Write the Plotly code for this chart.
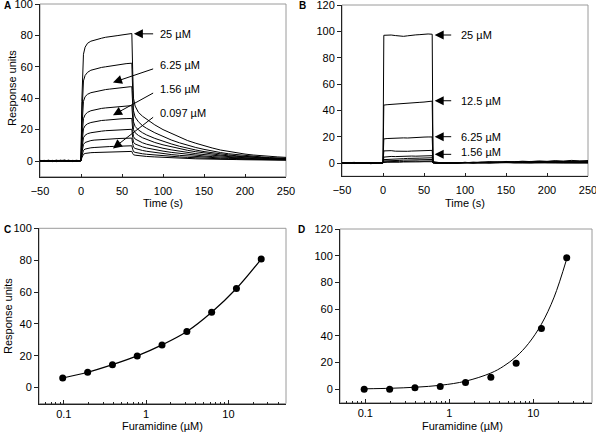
import math
import plotly.graph_objects as go

# ---------------- DATA ----------------
# Panel A: sensorgrams (time in s, response units)
tA = [-50, -45, -40, -35, -30, -25, -20, -15, -10, -5, -1, 0, 1, 2, 3, 5, 8, 12, 16, 20,
      25, 30, 35, 40, 45, 50, 55, 60, 62, 63, 64, 66, 70, 75, 80, 90, 100, 110, 120, 130,
      140, 150, 160, 170, 180, 190, 200, 210, 220, 230, 240, 250]

a_25 = [0.3, -0.2, 0.5, 0.1, -0.4, 0.2, 0.6, -0.1, 0.3, -0.3, 0.2, 0.5, 38, 60, 68, 72.5, 75, 76.3, 77, 77.6,
        78.2, 78.8, 79.3, 79.6, 79.9, 80.3, 80.6, 81, 81.2, 58, 40, 35, 31, 28.5, 26.5, 23, 20, 17.5, 15.2, 13,
        11.3, 9.6, 8.3, 7, 6, 5.2, 4.4, 3.8, 3.3, 2.9, 2.6, 2.3]
a_12_5 = [-0.2, 0.4, -0.3, 0.3, 0.5, -0.2, 0.1, 0.4, -0.4, 0.2, 0.0, 0.2, 28, 45, 51, 54.5, 56.5, 57.8, 58.5, 59,
          59.6, 60, 60.5, 61, 61.3, 61.6, 62, 62.2, 62.3, 45, 32, 28, 25, 22.5, 20.8, 18, 15.5, 13.4, 11.6, 10,
          8.6, 7.4, 6.3, 5.4, 4.6, 4, 3.4, 3, 2.6, 2.2, 2, 1.8]
a_6_25 = [0.1, -0.3, 0.2, -0.1, 0.4, 0.3, -0.3, 0.2, 0.1, 0.5, -0.2, 0.3, 20, 33, 38, 41, 42.5, 43.5, 44, 44.6,
          45, 45.5, 45.8, 46.2, 46.5, 46.8, 47.1, 47.3, 47.3, 34, 25, 22, 19.8, 18, 16.6, 14.4, 12.5, 10.9, 9.4, 8.1,
          7, 6, 5.2, 4.5, 3.9, 3.3, 2.9, 2.5, 2.1, 1.9, 1.6, 1.5]
a_3_125 = [0.4, 0.0, -0.3, 0.3, -0.1, 0.5, 0.2, -0.2, 0.4, 0.0, 0.3, 0.4, 14, 23, 27, 29.5, 31, 32, 32.6, 33,
           33.5, 33.8, 34.1, 34.4, 34.6, 34.8, 35, 35.2, 35.2, 26, 20, 18, 16.3, 14.8, 13.7, 11.8, 10.3, 9, 7.8, 6.8,
           5.9, 5.1, 4.4, 3.8, 3.3, 2.9, 2.5, 2.2, 1.9, 1.7, 1.5, 1.4]
a_1_56 = [-0.1, 0.3, 0.1, -0.4, 0.2, 0.0, 0.4, -0.2, 0.1, 0.3, -0.1, 0.2, 10, 17, 20.5, 22.5, 23.7, 24.5, 25, 25.4,
          25.8, 26, 26.3, 26.5, 26.7, 26.9, 27, 27.1, 27.1, 20, 15.5, 14, 12.7, 11.6, 10.7, 9.3, 8.1, 7.1, 6.2, 5.4,
          4.7, 4.1, 3.6, 3.1, 2.7, 2.4, 2.1, 1.8, 1.6, 1.4, 1.3, 1.2]
a_0_78 = [0.2, -0.2, 0.4, 0.0, 0.3, -0.3, 0.1, 0.5, -0.1, 0.2, 0.1, 0.3, 7, 12, 14.8, 16.4, 17.4, 18, 18.4, 18.7,
          19, 19.3, 19.5, 19.7, 19.8, 20, 20.1, 20.2, 20.2, 15, 12, 10.8, 9.8, 9, 8.3, 7.2, 6.3, 5.5, 4.8, 4.2,
          3.7, 3.2, 2.8, 2.5, 2.2, 1.9, 1.7, 1.5, 1.3, 1.2, 1.1, 1.0]
a_0_39 = [0.0, 0.4, -0.2, 0.2, 0.1, 0.4, -0.3, 0.0, 0.3, -0.2, 0.2, 0.3, 5, 8.5, 10.5, 11.8, 12.5, 13, 13.3, 13.5,
          13.7, 13.9, 14.1, 14.2, 14.3, 14.4, 14.5, 14.6, 14.6, 11, 8.8, 8, 7.3, 6.7, 6.2, 5.4, 4.7, 4.1, 3.6, 3.2,
          2.8, 2.5, 2.2, 1.9, 1.7, 1.5, 1.3, 1.2, 1.1, 1.0, 0.9, 0.9]
a_0_195 = [0.3, 0.1, 0.0, 0.4, -0.2, 0.2, 0.3, -0.1, 0.0, 0.4, 0.1, 0.3, 3, 5.5, 6.8, 7.6, 8.1, 8.4, 8.6, 8.8,
           8.9, 9.1, 9.2, 9.3, 9.4, 9.5, 9.6, 9.7, 9.7, 7.5, 6, 5.5, 5, 4.6, 4.3, 3.8, 3.3, 2.9, 2.6, 2.3,
           2.0, 1.8, 1.6, 1.4, 1.3, 1.2, 1.1, 1.0, 0.9, 0.8, 0.8, 0.7]
a_0_097 = [-0.2, 0.2, 0.3, -0.1, 0.0, 0.2, 0.0, 0.3, 0.2, -0.1, 0.0, 0.2, 2, 3.5, 4.3, 4.8, 5.1, 5.3, 5.4, 5.5,
           5.6, 5.7, 5.8, 5.8, 5.9, 6.0, 6.0, 6.1, 6.1, 4.8, 4, 3.7, 3.4, 3.1, 2.9, 2.6, 2.3, 2.0, 1.8, 1.6,
           1.4, 1.3, 1.1, 1.0, 0.9, 0.9, 0.8, 0.7, 0.7, 0.6, 0.6, 0.5]
seriesA = [a_25, a_12_5, a_6_25, a_3_125, a_1_56, a_0_78, a_0_39, a_0_195, a_0_097]

# Panel B: sensorgrams
tB = [-50, -45, -40, -35, -30, -25, -20, -15, -10, -5, -1, 0, 1, 5, 10, 15, 20, 25, 30, 35,
      40, 45, 50, 55, 60, 61, 62, 65, 70, 80, 90, 100, 110, 120, 130, 140, 150, 160, 170, 180,
      190, 200, 210, 220, 230, 240, 250]
b_25 = [0.2, -0.4, 0.3, 0.5, -0.2, 0.0, 0.4, -0.5, -0.3, 0.1, 0.3, 0.5, 97, 97.3, 97.2, 96.8, 96.5, 96.2, 96.6, 97.2,
        97.3, 97.5, 97.8, 98, 97.8, 1.5, 1.0, 0.6, 0.2, -0.3, 0.3, 0.5, 0.2, 0.8, 1.0, 0.6, 1.2, 0.9, 1.4, 1.1,
        1.6, 1.3, 1.8, 1.5, 2.0, 1.6, 1.9]
b_12_5 = [-0.3, 0.2, 0.0, -0.4, 0.3, -0.1, 0.2, 0.1, -0.3, 0.0, -0.2, 0.2, 44, 44.3, 44.6, 44.8, 45, 45.3, 45.4, 45.6,
          45.9, 46.1, 46.3, 46.8, 47, 1.0, 0.6, 0.3, 0.0, 0.2, -0.2, 0.4, 0.1, 0.6, 0.3, 0.8, 0.5, 1.0, 0.7, 1.2,
          0.9, 1.1, 1.4, 1.0, 1.5, 1.3, 1.2]
b_6_25 = [0.0, 0.3, -0.2, 0.1, -0.3, 0.4, 0.0, -0.2, 0.2, -0.1, 0.1, 0.2, 18.3, 18.6, 18.8, 18.7, 18.9, 19.1, 19.0, 19.3,
          19.5, 19.4, 19.7, 19.8, 19.8, 0.6, 0.4, 0.2, -0.1, 0.3, 0.1, 0.5, 0.0, 0.4, 0.7, 0.3, 0.8, 0.5, 0.9, 0.6,
          1.1, 0.8, 0.7, 1.2, 0.9, 1.0, 0.8]
b_3_125 = [0.2, -0.1, 0.4, 0.0, 0.2, -0.3, 0.3, 0.1, 0.0, 0.3, -0.1, 0.3, 9.2, 9.5, 9.4, 9.0, 8.8, 8.7, 8.9, 9.1,
           9.3, 9.2, 9.4, 9.5, 9.6, 0.5, 0.3, 0.1, 0.3, 0.0, 0.4, 0.2, 0.6, 0.3, 0.5, 0.9, 0.4, 0.7, 1.0, 0.6,
           0.9, 0.5, 1.0, 0.8, 0.6, 0.9, 0.7]
b_1_56 = [-0.2, 0.1, 0.2, -0.1, 0.4, 0.1, -0.2, 0.3, 0.2, -0.3, 0.0, 0.1, 4.5, 4.8, 5.0, 4.9, 5.1, 5.0, 5.2, 5.3,
          5.2, 5.4, 5.5, 5.6, 5.6, 0.4, 0.2, 0.0, 0.2, 0.4, 0.0, 0.3, 0.5, 0.2, 0.6, 0.4, 0.3, 0.7, 0.5, 0.8,
          0.4, 0.6, 0.9, 0.5, 0.7, 0.4, 0.6]
b_0_78 = [0.1, 0.3, -0.2, 0.2, 0.0, 0.3, 0.1, -0.1, 0.4, 0.1, 0.2, 0.2, 2.6, 2.8, 3.0, 3.1, 3.2, 3.3, 3.5, 3.4,
          3.6, 3.7, 3.8, 3.9, 4.0, 0.3, 0.2, 0.1, -0.1, 0.2, 0.3, 0.1, 0.4, 0.2, 0.5, 0.3, 0.6, 0.2, 0.5, 0.4,
          0.7, 0.3, 0.5, 0.6, 0.4, 0.5, 0.3]
b_0_39 = [0.0, -0.2, 0.3, 0.1, -0.1, 0.2, 0.4, 0.0, -0.2, 0.2, 0.1, 0.1, 1.6, 1.8, 1.9, 2.1, 2.0, 2.2, 2.3, 2.2,
          2.4, 2.5, 2.4, 2.6, 2.7, 0.2, 0.1, 0.3, 0.0, -0.1, 0.2, 0.4, 0.1, 0.3, 0.0, 0.4, 0.2, 0.5, 0.3, 0.2,
          0.6, 0.4, 0.3, 0.5, 0.2, 0.4, 0.3]
b_0_195 = [0.2, 0.0, 0.1, -0.3, 0.2, 0.0, -0.1, 0.3, 0.1, 0.0, 0.2, 0.1, 0.9, 1.1, 1.0, 1.2, 1.3, 1.2, 1.4, 1.3,
           1.5, 1.4, 1.6, 1.5, 1.6, 0.1, 0.2, 0.0, 0.2, 0.1, -0.1, 0.2, 0.3, 0.0, 0.2, 0.4, 0.1, 0.3, 0.2, 0.4,
           0.1, 0.3, 0.2, 0.0, 0.3, 0.1, 0.2]
b_0_097 = [-0.1, 0.2, 0.0, 0.2, -0.2, 0.1, 0.2, -0.1, 0.0, 0.1, 0.0, 0.0, 0.4, 0.6, 0.5, 0.7, 0.6, 0.8, 0.7, 0.9,
           0.8, 0.9, 1.0, 0.9, 1.0, 0.0, 0.1, -0.1, 0.1, 0.0, 0.2, -0.1, 0.1, 0.2, 0.0, 0.1, 0.3, 0.0, 0.2, 0.1,
           0.3, 0.0, 0.2, 0.1, 0.0, 0.2, 0.1]
seriesB = [b_25, b_12_5, b_6_25, b_3_125, b_1_56, b_0_78, b_0_39, b_0_195, b_0_097]

# Panel C: steady-state response vs concentration
concC = [0.097, 0.195, 0.39, 0.78, 1.56, 3.125, 6.25, 12.5, 25]
respC = [6.0, 9.6, 14.4, 19.9, 26.8, 35.2, 47.3, 62.2, 80.7]

# Panel D: points and fitted curve
concD = [0.097, 0.195, 0.39, 0.78, 1.56, 3.125, 6.25, 12.5, 25]
respD = [0.0, 0.0, 1.2, 2.2, 5.2, 9.0, 19.5, 45.6, 98.5]
fitD_x = [0.1, 0.2, 0.4, 0.8, 1.56, 3.125, 4.4, 6.25, 8.8, 12.5, 17.7, 25]
fitD_y = [0.4, 0.8, 1.6, 3.1, 6.1, 12.2, 17.2, 24.4, 34.4, 48.8, 69.0, 97.6]

# Labels
labelsA = ["25 µM", "6.25 µM", "1.56 µM", "0.097 µM"]
labelsB = ["25 µM", "12.5 µM", "6.25 µM", "1.56 µM"]
xticksA = [-50, 0, 50, 100, 150, 200, 250]
logticks = [0.1, 1, 10]
logticktext = ["0.1", "1", "10"]
minorvals = [0.05, 0.06, 0.07, 0.08, 0.09, 0.2, 0.3, 0.4, 0.5, 0.6, 0.7, 0.8, 0.9,
             2, 3, 4, 5, 6, 7, 8, 9, 20, 30, 40, 50]

# ---------------- LAYOUT HELPERS ----------------
W, H = 596, 434
FONT = "Liberation Sans, Arial, sans-serif"


def dom_x(a, b):
    return [a / W, b / W]


def dom_y(top, bottom):
    return [1 - bottom / H, 1 - top / H]


boxes = {
    "A": (40, 286, 4, 176.7),
    "B": (342, 588, 5, 176.2),
    "C": (39, 286, 228.3, 403.5),
    "D": (340, 592, 229, 402.7),
}

fig = go.Figure()
line = dict(color="black", width=1)

for s in seriesA:
    fig.add_trace(go.Scatter(x=tA, y=s, mode="lines", line=line, xaxis="x", yaxis="y",
                             showlegend=False, hoverinfo="skip"))
for s in seriesB:
    fig.add_trace(go.Scatter(x=tB, y=s, mode="lines", line=line, xaxis="x2", yaxis="y2",
                             showlegend=False, hoverinfo="skip"))
fig.add_trace(go.Scatter(x=concC, y=respC, mode="lines+markers", line=dict(color="black", width=1.2, shape="spline"),
                         marker=dict(color="black", size=7), xaxis="x3", yaxis="y3", showlegend=False))
fig.add_trace(go.Scatter(x=fitD_x, y=fitD_y, mode="lines", line=dict(color="black", width=1, shape="spline"),
                         xaxis="x4", yaxis="y4", showlegend=False))
fig.add_trace(go.Scatter(x=concD, y=respD, mode="markers", marker=dict(color="black", size=7),
                         xaxis="x4", yaxis="y4", showlegend=False))

tickfont = dict(family=FONT, size=11, color="black")
common = dict(showgrid=False, zeroline=False, showline=True, linecolor="#222", linewidth=1,
              tickcolor="#222", tickfont=tickfont, automargin=False, ticklabeloverflow="allow")


def lin_x(box, anchor):
    return dict(domain=dom_x(box[0], box[1]), anchor=anchor, range=[-50, 250], tickvals=xticksA,
                ticks="inside", ticklen=3, ticklabelstandoff=4, **common)


def lin_y(box, anchor, rng, dt):
    return dict(domain=dom_y(box[2], box[3]), anchor=anchor, range=rng, tick0=0, dtick=dt,
                ticks="outside", ticklen=4, **common)


def log_x(box, anchor):
    return dict(domain=dom_x(box[0], box[1]), anchor=anchor, type="log",
                range=[math.log10(0.05), math.log10(50)], tickmode="array", tickvals=logticks,
                ticktext=logticktext, ticks="inside", ticklen=4,
                minor=dict(tickmode="array", tickvals=minorvals, ticks="inside", ticklen=2,
                           tickcolor="#222"), **common)


bA, bB, bC, bD = boxes["A"], boxes["B"], boxes["C"], boxes["D"]
fig.update_layout(
    template="none",
    width=W, height=H, margin=dict(l=0, r=0, t=0, b=0, autoexpand=False),
    paper_bgcolor="white", plot_bgcolor="white",
    font=dict(family=FONT, size=11, color="black"),
    xaxis=lin_x(bA, "y"), yaxis=lin_y(bA, "x", [-10, 100], 20),
    xaxis2=lin_x(bB, "y2"), yaxis2=lin_y(bB, "x2", [-10, 120], 20),
    xaxis3=log_x(bC, "y3"), yaxis3=lin_y(bC, "x3", [-10, 100], 20),
    xaxis4=log_x(bD, "y4"), yaxis4=lin_y(bD, "x4", [-10, 120], 20),
)

shapes = []
for k, (x0, x1, y0, y1) in boxes.items():
    shapes.append(dict(type="rect", xref="paper", yref="paper", x0=x0 / W, x1=x1 / W,
                       y0=1 - y1 / H, y1=1 - y0 / H, line=dict(color="#9a9a9a", width=1), layer="below"))
fig.update_layout(shapes=shapes)

ann = []
afont = dict(family=FONT, size=11, color="black")


def arrow(xr, yr, hx, hy, tx, ty):
    return dict(x=hx, y=hy, ax=tx, ay=ty, xref=xr, yref=yr, axref=xr, ayref=yr, text="",
                showarrow=True, arrowhead=2, arrowsize=1.8, arrowwidth=1, arrowcolor="black", standoff=0)


def label(xr, yr, x, y, t):
    return dict(x=x, y=y, xref=xr, yref=yr, text=t, showarrow=False, xanchor="left", yanchor="middle",
                font=afont)


# Panel A arrows/labels
headsA = [(64.5, 81), (39, 50), (39, 29.2), (39, 8)]
tailsA = [(89.8, 81), (89.8, 59), (89.8, 43.8), (89.8, 28.6)]
textA = [(93.4, 81), (93.4, 61), (93.4, 45.7), (93.4, 30.5)]
for h, t, p, s in zip(headsA, tailsA, textA, labelsA):
    ann.append(arrow("x", "y", h[0], h[1], t[0], t[1]))
    ann.append(label("x", "y", p[0], p[1], s))

# Panel B arrows/labels
headsB = [(63, 97.2), (63, 47.3), (63, 20), (63, 6.6)]
tailsB = [(85, 97.2), (85, 47.3), (85, 20), (85, 6.6)]
textB = [(93, 97.2), (93, 47.3), (93, 20), (93, 8.6)]
for h, t, p, s in zip(headsB, tailsB, textB, labelsB):
    ann.append(arrow("x2", "y2", h[0], h[1], t[0], t[1]))
    ann.append(label("x2", "y2", p[0], p[1], s))


def ptext(x, y, t, angle=0, size=11, bold=False):
    return dict(x=x / W, y=1 - y / H, xref="paper", yref="paper", text=("<b>%s</b>" % t) if bold else t,
                showarrow=False, textangle=angle, xanchor="center", yanchor="middle",
                font=dict(family=FONT, size=size, color="black"))


ann += [
    ptext(163, 203, "Time (s)"),
    ptext(465, 203, "Time (s)"),
    ptext(162.5, 425.5, "Furamidine (µM)"),
    ptext(462, 425.5, "Furamidine (µM)"),
    ptext(12, 88, "Response units", angle=-90),
    ptext(8, 316, "Response units", angle=-90),
    ptext(7, 5, "A", size=10, bold=True),
    ptext(302, 5, "B", size=10, bold=True),
    ptext(7, 229, "C", size=10, bold=True),
    ptext(301, 229, "D", size=10, bold=True),
]
fig.update_layout(annotations=ann)

fig.write_html("out.html", config={"displayModeBar": False},
               post_script="document.body.style.margin='0px';document.body.style.overflow='hidden';")
